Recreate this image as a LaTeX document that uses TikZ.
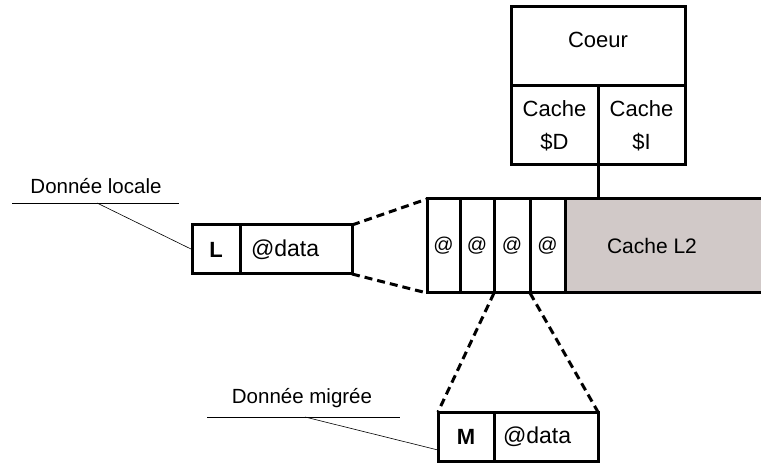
\documentclass[tikz,border=0pt]{standalone}
\usepackage{fontspec}
\setmainfont{Liberation Sans}
\usepackage{tikz}
\usetikzlibrary{calc}
\definecolor{l2gray}{RGB}{209,201,200}
\tikzset{
	every box/.style={
		rectangle,
		draw,
		line width=3pt,
		inner sep=0pt,
		outer sep=0pt
	},
	cell/.style={
		every box,
		minimum width=#1,
		minimum height=94pt,
		font=\fontsize{20}{24}\selectfont
	},
	tag/.style={
		every box,
		minimum width=#1,
		minimum height=49pt
	},
}

\begin{document}
\begin{tikzpicture}[x=1pt,y=-1pt]
\tikzset{zoomline/.style = {line width=3pt, dash pattern=on 8pt off 5pt}}
\tikzset{noteline/.style = {line width=0.6pt}}
\useasboundingbox (0,0) rectangle (761,465);

% coeur + caches L1
\node[every box, minimum width=174pt, minimum height=79pt] (coeur) at (598,46.5) {};
\node[font=\fontsize{22}{26}\selectfont] (coeurtext) at (598,40) {Coeur};
\node[every box, minimum width=87pt, minimum height=79pt, align=center,
	font=\fontsize{22}{33}\selectfont] (cacheD) at (554.5,125.5) {Cache\\\$D};
\node[every box, minimum width=87pt, minimum height=79pt, align=center,
	font=\fontsize{22}{33}\selectfont] (cacheI) at (641.5,125.5) {Cache\\\$I};

% cache L2
\node[cell=33pt] (c1) at (443.5,246) {\raisebox{2pt}{@}};
\node[cell=34pt] (c2) at (477,246) {\raisebox{2pt}{@}};
\node[cell=36pt] (c3) at (512,246) {@};
\node[cell=35pt] (c4) at (547.5,246) {\raisebox{2pt}{@}};
\node[rectangle, fill=l2gray, minimum width=205pt, minimum height=94pt,
	inner sep=0pt, outer sep=0pt] (l2) at (667.5,246) {};
\node[font=\fontsize{21}{25}\selectfont] (l2text) at (652,246) {Cache L2};
\draw[line width=3pt] (c4.north east) -- (l2.north east);
\draw[line width=3pt] (c4.south east) -- (l2.south east);
\draw[line width=3pt] (c4.north east) -- (c4.south east);

\draw[line width=3pt] (cacheD.south east) -- (c4.north east -| cacheD.south east);

% donnee locale
\node[tag=48pt, font=\bfseries\fontsize{22}{26}\selectfont] (Lflag) at (216,249.5) {L};
\node[tag=112pt, font=\fontsize{23}{27}\selectfont, anchor=west] (Ldata) at (Lflag.east)
	{\makebox[112pt][l]{\hspace*{11pt}@data}};
\node[font=\fontsize{20.5}{24}\selectfont] (Lnote) at (96,186) {Donnée locale};
\coordinate (Lleft) at (12,203);
\coordinate (Lright) at (179,203);
\coordinate (Lknee) at (97,203);
\draw[noteline] (Lleft) -- (Lright);
\draw[noteline] (Lknee) -- (Lflag.west);

% donnee migree
\node[tag=56pt, font=\bfseries\fontsize{22}{26}\selectfont] (Mflag) at (466,436.5) {M};
\node[tag=104pt, font=\fontsize{23}{27}\selectfont, anchor=west] (Mdata) at (Mflag.east)
	{\makebox[104pt][l]{\hspace*{9pt}@data}};
\node[font=\fontsize{20.5}{24}\selectfont] (Mnote) at (302,398) {Donnée migrée};
\coordinate (Mleft) at (207,417);
\coordinate (Mright) at (400,417);
\coordinate (Mknee) at (305,417);
\draw[noteline] (Mleft) -- (Mright);
\draw[noteline] (Mknee) -- ([yshift=-13.5pt]Mflag.west);

% zoom
\draw[zoomline] (Ldata.north east) -- (c1.north west);
\draw[zoomline] (Ldata.south east) -- (c1.south west);
\draw[zoomline] (c3.south west) -- (Mflag.north west);
\draw[zoomline] (c4.south west) -- (Mdata.north east);
\end{tikzpicture}
\end{document}
